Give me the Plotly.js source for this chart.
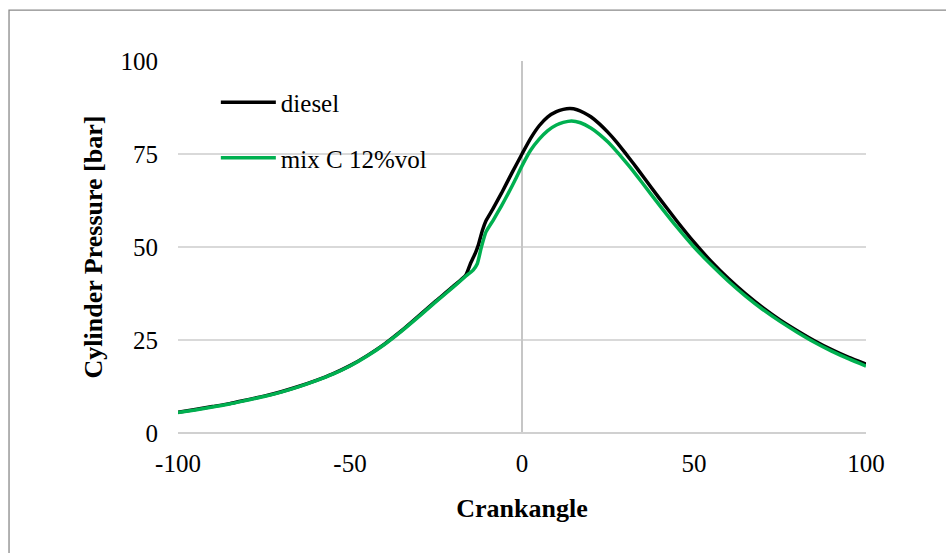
<!DOCTYPE html>
<html>
<head>
<meta charset="utf-8">
<script src="https://cdn.plot.ly/plotly-3.0.1.min.js"></script>
<style>
html,body{margin:0;padding:0;background:#fff;}
#chart{width:946px;height:553px;}
</style>
</head>
<body>
<div id="chart"></div>
<script>
// Crank angle (deg) and cylinder pressure (bar)
const crankDiesel = [-100,-95,-90,-85,-80,-75,-70,-65,-60,-55,-50,-45,-40,-35,-30,-25,-20,-16.3,-15,-13.5,-12.7,-11.5,-10.5,-8.5,-6,-3,0,2.5,5,7.5,10,12,14,16,18,20,22.5,25,27.5,30,32.5,35,40,45,50,55,60,65,70,75,80,85,90,95,100];
const pDiesel     = [5.6,6.3,7.1,7.9,8.9,9.9,11.1,12.5,14.1,15.9,18.1,20.8,23.9,27.5,31.5,35.5,39.4,42.5,45.5,48.5,50.5,54.5,57.0,60.2,64.4,69.8,75.0,79.2,82.6,85.0,86.4,87.0,87.2,86.9,86.1,85.0,83.1,80.8,78.2,75.3,72.3,69.2,63.0,57.0,51.3,46.1,41.5,37.4,33.7,30.4,27.5,24.8,22.4,20.3,18.5];
const crankMix    = [-100,-95,-90,-85,-80,-75,-70,-65,-60,-55,-50,-45,-40,-35,-30,-25,-20,-16.3,-14.2,-13,-11.8,-10.5,-8.3,-6,-4,-2,0,2.5,5,7.5,10,12,14.4,17,20,22.5,25,27.5,30,32.5,35,40,45,50,55,60,65,70,75,80,85,90,95,100];
const pMix        = [5.5,6.2,7.0,7.8,8.8,9.8,11.0,12.4,14.0,15.8,18.0,20.7,23.8,27.4,31.3,35.3,39.2,42.2,43.8,45.5,50.0,54.0,57.3,61.0,64.4,68.0,71.8,76.0,79.0,81.3,82.8,83.5,83.9,83.4,82.0,80.3,78.2,75.7,73.0,70.2,67.2,61.2,55.4,50.0,45.2,40.8,36.8,33.2,30.0,27.1,24.4,22.0,19.9,18.0];
const seriesNames = ['diesel','mix C 12%vol'];
const xTicks = [-100,-50,0,50,100];
const yTicks = [0,25,50,75,100];

const font = '"Liberation Serif", "Times New Roman", Times, serif';

const traces = [
  {x: crankDiesel, y: pDiesel, name: seriesNames[0], mode:'lines', legendgroup:'a',
   line:{color:'#000000', width:3.5, shape:'spline', smoothing:0.5}},
  {x: crankMix, y: pMix, name: seriesNames[1], mode:'lines', legendgroup:'b',
   line:{color:'#00b050', width:3.5, shape:'spline', smoothing:0.5}}
];

const layout = {
  width:946, height:553,
  margin:{l:178, r:80, t:61, b:120},
  paper_bgcolor:'#ffffff', plot_bgcolor:'#ffffff',
  font:{family:font, size:25, color:'#000'},
  showlegend:true,
  legend:{x:0.055, y:0.95, xanchor:'left', yanchor:'top', bgcolor:'rgba(0,0,0,0)',
          font:{family:font, size:25, color:'#000'}, tracegroupgap:20, itemwidth:55},
  xaxis:{range:[-100,100], tickvals:xTicks, ticktext:xTicks.map(String), showgrid:false,
         zeroline:true, zerolinecolor:'#c6c6c6', zerolinewidth:1.6,
         showline:false, ticks:'', ticklabelstandoff:13,
         tickfont:{family:font, size:25, color:'#000'},
         title:{text:'<b>Crankangle</b>', font:{family:font, size:26, color:'#000'}, standoff:22}},
  yaxis:{range:[0,100], tickvals:yTicks, ticktext:yTicks.map(String), showgrid:true,
         gridcolor:'#d9d9d9', gridwidth:1.3,
         zeroline:true, zerolinecolor:'#d0d0d0', zerolinewidth:1.5,
         showline:false, ticks:'', ticklabelstandoff:19,
         tickfont:{family:font, size:25, color:'#000'},
         title:{text:'<b>Cylinder Pressure [bar]</b>', font:{family:font, size:26, color:'#000'}, standoff:10}},
  shapes:[
    {type:'rect', xref:'paper', yref:'paper', x0:-0.2456, x1:1.2, y0:-0.4, y1:1.137,
     line:{color:'#898989', width:1.3}, fillcolor:'rgba(0,0,0,0)', layer:'below'}
  ]
};

Plotly.newPlot('chart', traces, layout, {staticPlot:true, displayModeBar:false});
</script>
</body>
</html>
